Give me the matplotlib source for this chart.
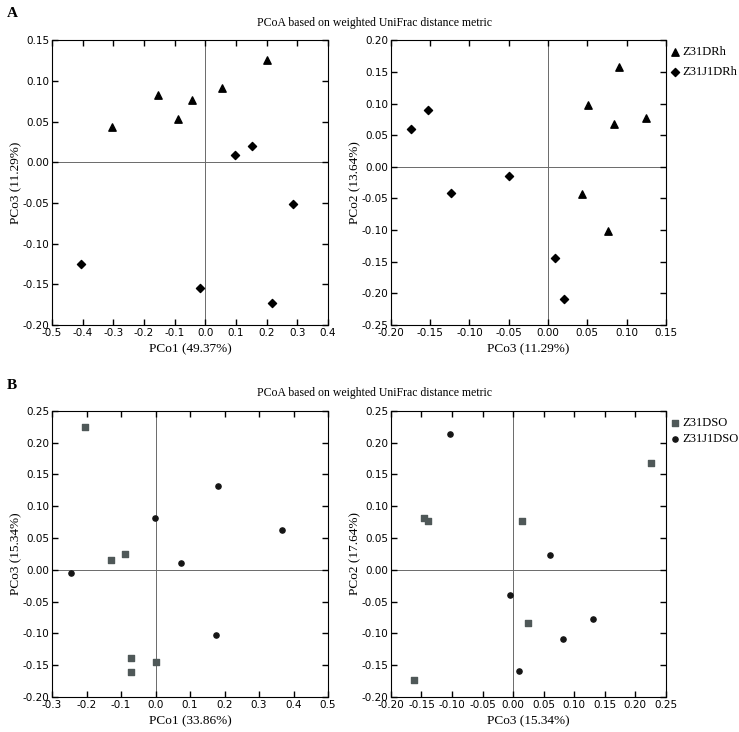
import matplotlib
matplotlib.use("Agg")
import matplotlib.pyplot as plt

# Panel A: Z31DRh (triangles) vs Z31J1DRh (diamonds)
a1_tri_x = [-0.305, -0.155, -0.088, -0.045, 0.053, 0.200]
a1_tri_y = [0.043, 0.083, 0.053, 0.076, 0.091, 0.126]
a1_dia_x = [0.097, 0.152, 0.287, -0.405, -0.018, 0.216]
a1_dia_y = [0.009, 0.020, -0.051, -0.125, -0.155, -0.173]

a2_tri_x = [0.091, 0.051, 0.084, 0.125, 0.043, 0.076]
a2_tri_y = [0.157, 0.098, 0.068, 0.077, -0.043, -0.101]
a2_dia_x = [-0.175, -0.153, -0.124, -0.050, 0.009, 0.020]
a2_dia_y = [0.059, 0.089, -0.042, -0.015, -0.144, -0.209]

# Panel B: Z31DSO (squares) vs Z31J1DSO (circles)
b1_sq_x = [-0.205, -0.130, -0.088, -0.072, -0.072, 0.002]
b1_sq_y = [0.225, 0.016, 0.025, -0.138, -0.161, -0.145]
b1_ci_x = [-0.245, -0.002, 0.075, 0.182, 0.367, 0.176]
b1_ci_y = [-0.005, 0.082, 0.010, 0.132, 0.062, -0.103]

b2_sq_x = [-0.146, -0.139, 0.015, 0.225, 0.025, -0.162]
b2_sq_y = [0.082, 0.077, 0.077, 0.168, -0.084, -0.173]
b2_ci_x = [-0.104, 0.061, -0.005, 0.131, 0.081, 0.009]
b2_ci_y = [0.214, 0.023, -0.040, -0.077, -0.109, -0.159]

SERIF = ["Liberation Serif", "DejaVu Serif"]
TITLE = "PCoA based on weighted UniFrac distance metric"
SQ_COL = "#4f5858"
CI_COL = "#151515"


def style(ax, xlim, ylim, xstep, ystep, xlabel, ylabel):
    ax.axhline(0, color="#6a6a6a", lw=0.7, zorder=1)
    ax.axvline(0, color="#6a6a6a", lw=0.7, zorder=1)
    ax.set_xlim(*xlim)
    ax.set_ylim(*ylim)
    n = int(round((xlim[1] - xlim[0]) / xstep))
    ax.set_xticks([xlim[0] + i * xstep for i in range(n + 1)])
    n = int(round((ylim[1] - ylim[0]) / ystep))
    ax.set_yticks([ylim[0] + i * ystep for i in range(n + 1)])
    ax.xaxis.set_major_formatter(matplotlib.ticker.FormatStrFormatter("%.1f" if xstep >= 0.1 else "%.2f"))
    ax.yaxis.set_major_formatter(matplotlib.ticker.FormatStrFormatter("%.2f"))
    ax.tick_params(direction="in", top=True, right=True, length=4, width=1,
                   labelsize=7.5, pad=2)
    for s in ax.spines.values():
        s.set_linewidth(0.8)
    ax.set_xlabel(xlabel, family=SERIF, fontsize=9.5, labelpad=4)
    ax.set_ylabel(ylabel, family=SERIF, fontsize=9.5, labelpad=0)


def legend(ax, spacing):
    ax.legend(loc="upper left", bbox_to_anchor=(1.0, 0.996), frameon=False,
              prop={"family": SERIF, "size": 9}, handletextpad=0.3,
              handlelength=0.6, borderaxespad=0, labelspacing=spacing)


fig = plt.figure(figsize=(7.39, 7.32), dpi=100)

axA1 = fig.add_axes([0.0704, 0.556, 0.3735, 0.389])
axA2 = fig.add_axes([0.529, 0.556, 0.372, 0.389])
axB1 = fig.add_axes([0.0704, 0.0478, 0.3735, 0.391])
axB2 = fig.add_axes([0.529, 0.0478, 0.372, 0.391])

axA1.scatter(a1_tri_x, a1_tri_y, marker="^", s=28, color="black", zorder=3)
axA1.scatter(a1_dia_x, a1_dia_y, marker="D", s=17, color="black", zorder=3)
style(axA1, (-0.5, 0.4), (-0.2, 0.15), 0.1, 0.05, "PCo1 (49.37%)", "PCo3 (11.29%)")

axA2.scatter(a2_tri_x, a2_tri_y, marker="^", s=28, color="black", zorder=3, label="Z31DRh")
axA2.scatter(a2_dia_x, a2_dia_y, marker="D", s=17, color="black", zorder=3, label="Z31J1DRh")
style(axA2, (-0.2, 0.15), (-0.25, 0.2), 0.05, 0.05, "PCo3 (11.29%)", "PCo2 (13.64%)")
legend(axA2, 0.6)

axB1.scatter(b1_sq_x, b1_sq_y, marker="s", s=14, color=SQ_COL, zorder=3)
axB1.scatter(b1_ci_x, b1_ci_y, marker="o", s=14, color=CI_COL, zorder=3)
style(axB1, (-0.3, 0.5), (-0.2, 0.25), 0.1, 0.05, "PCo1 (33.86%)", "PCo3 (15.34%)")

axB2.scatter(b2_sq_x, b2_sq_y, marker="s", s=14, color=SQ_COL, zorder=3, label="Z31DSO")
axB2.scatter(b2_ci_x, b2_ci_y, marker="o", s=14, color=CI_COL, zorder=3, label="Z31J1DSO")
style(axB2, (-0.2, 0.25), (-0.2, 0.25), 0.05, 0.05, "PCo3 (15.34%)", "PCo2 (17.64%)")
legend(axB2, 0.35)

fig.text(0.507, 0.969, TITLE, family=SERIF, fontsize=8.5, ha="center", va="center")
fig.text(0.507, 0.463, TITLE, family=SERIF, fontsize=8.5, ha="center", va="center")
fig.text(0.0095, 0.981, "A", family=SERIF, fontsize=11, weight="bold", va="center")
fig.text(0.0095, 0.474, "B", family=SERIF, fontsize=11, weight="bold", va="center")

fig.savefig("out.png", dpi=100)
